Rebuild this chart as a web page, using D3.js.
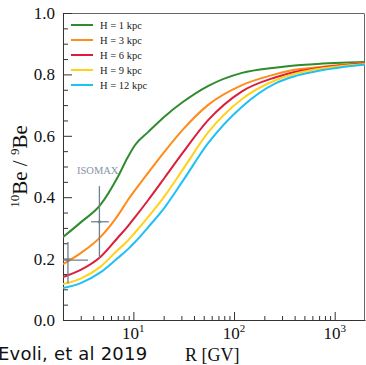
<!DOCTYPE html>
<html>
<head>
<meta charset="utf-8">
<script src="https://cdn.jsdelivr.net/npm/d3@7"></script>
<style>
  body { margin: 0; background: #fff; }
  svg { display: block; }
</style>
</head>
<body>
<div id="chart"></div>
<script>
// rigidity grid (GV)
var rigidity = [2, 3, 4.7, 7, 8.8, 10.4, 14, 20.6, 31, 55, 120, 255, 400, 610, 2000];

var seriesNames = ["H = 1 kpc", "H = 3 kpc", "H = 6 kpc", "H = 9 kpc", "H = 12 kpc"];
var seriesColors = ["#2e8b2e", "#ff8c1a", "#dc1e3c", "#ffd21a", "#1ec0f5"];

var h1  = [0.270, 0.318, 0.375, 0.466, 0.530, 0.570, 0.612, 0.664, 0.710, 0.762, 0.805, 0.822, 0.829, 0.833, 0.840];
var h3  = [0.182, 0.218, 0.270, 0.340, 0.390, 0.423, 0.479, 0.550, 0.620, 0.700, 0.765, 0.800, 0.815, 0.822, 0.838];
var h6  = [0.140, 0.163, 0.205, 0.268, 0.305, 0.335, 0.390, 0.465, 0.545, 0.650, 0.745, 0.790, 0.808, 0.818, 0.836];
var h9  = [0.117, 0.135, 0.173, 0.228, 0.258, 0.285, 0.335, 0.405, 0.490, 0.610, 0.720, 0.780, 0.802, 0.815, 0.834];
var h12 = [0.104, 0.120, 0.155, 0.202, 0.230, 0.254, 0.302, 0.368, 0.453, 0.575, 0.695, 0.770, 0.794, 0.808, 0.832];
var allSeries = [h1, h3, h6, h9, h12];

// ISOMAX points
var isoR     = [2.24, 4.6];
var isoRLo   = [1.6, 3.8];
var isoRHi   = [3.54, 5.7];
var isoVal   = [0.195, 0.32];
var isoValLo = [0.12, 0.202];
var isoValHi = [0.254, 0.436];

var yTicks = [0, 0.2, 0.4, 0.6, 0.8, 1.0];
var xMajor = [10, 100, 1000];

var W = 366, H = 365;
var padL = 63, padR = 365, padT = 13, padB = 320;

var svg = d3.select("#chart").append("svg").attr("width", W).attr("height", H);

var x = d3.scaleLog().domain([2, 2000]).range([padL, padR]);
var y = d3.scaleLinear().domain([0, 1]).range([padB, padT]);

svg.append("defs").append("clipPath").attr("id", "plotclip")
  .append("rect").attr("x", padL).attr("y", padT).attr("width", padR - padL).attr("height", padB - padT);

// frame (top / right)
svg.append("path")
  .attr("d", "M" + padL + "," + (padT + 0.5) + "H" + (padR - 0.5) + "V" + padB)
  .attr("fill", "none").attr("stroke", "#666").attr("stroke-width", 1);

var serif = "'Liberation Serif', 'DejaVu Serif', serif";

// y axis
var minorY = d3.range(0, 1.0001, 0.05).filter(function(d) { return Math.abs(d * 5 - Math.round(d * 5)) > 1e-6; });
svg.append("g").attr("transform", "translate(" + padL + ",0)")
  .call(d3.axisLeft(y).tickValues(minorY).tickSize(-5).tickFormat(""))
  .call(function(g) { g.select(".domain").remove(); g.selectAll("line").attr("stroke", "#333"); });
var yAx = svg.append("g").attr("transform", "translate(" + padL + ",0)")
  .call(d3.axisLeft(y).tickValues(yTicks).tickSize(-9).tickPadding(8).tickFormat(d3.format(".1f")).tickSizeOuter(0));
yAx.select(".domain").attr("stroke", "#333");
yAx.selectAll("line").attr("stroke", "#333");
yAx.selectAll("text").attr("font-family", serif).attr("font-size", 17).attr("fill", "#111");

// x axis
var minorX = [];
[1, 10, 100, 1000].forEach(function(dec) {
  for (var k = 2; k <= 9; k++) { var v = dec * k; if (v > 2 && v < 2000) minorX.push(v); }
});
svg.append("g").attr("transform", "translate(0," + padB + ")")
  .call(d3.axisBottom(x).tickValues(minorX).tickSize(-4).tickFormat(""))
  .call(function(g) { g.select(".domain").remove(); g.selectAll("line").attr("stroke", "#333"); });
var xAx = svg.append("g").attr("transform", "translate(0," + padB + ")")
  .call(d3.axisBottom(x).tickValues(xMajor).tickSize(-8).tickFormat("").tickSizeOuter(0));
xAx.select(".domain").attr("stroke", "#333");
xAx.selectAll("line").attr("stroke", "#333");

var xl = svg.append("g").selectAll("text").data(xMajor).enter().append("text")
  .attr("x", function(d) { return x(d); })
  .attr("y", 339)
  .attr("text-anchor", "middle")
  .attr("font-family", serif).attr("font-size", 17).attr("fill", "#111");
xl.append("tspan").text("10");
xl.append("tspan").attr("dy", -7).attr("font-size", 11).text(function(d) { return Math.round(Math.log10(d)); });

// curves
var line = d3.line()
  .x(function(d, i) { return x(rigidity[i]); })
  .y(function(d) { return y(d); })
  .curve(d3.curveMonotoneX);

var plot = svg.append("g").attr("clip-path", "url(#plotclip)");
plot.selectAll("path.curve").data(allSeries).enter().append("path")
  .attr("class", "curve")
  .attr("d", line)
  .attr("fill", "none")
  .attr("stroke", function(d, i) { return seriesColors[i]; })
  .attr("stroke-width", 2);

// ISOMAX data
var errColor = "#6f7f92";
var eb = plot.append("g").attr("stroke", errColor).attr("stroke-width", 1.3);
isoR.forEach(function(r, i) {
  eb.append("line").attr("x1", x(isoRLo[i])).attr("x2", x(isoRHi[i])).attr("y1", y(isoVal[i])).attr("y2", y(isoVal[i]));
  eb.append("line").attr("x1", x(r)).attr("x2", x(r)).attr("y1", y(isoValLo[i])).attr("y2", y(isoValHi[i]));
  plot.append("circle").attr("cx", x(r)).attr("cy", y(isoVal[i])).attr("r", 1.6).attr("fill", errColor);
});
svg.append("text").attr("x", 77).attr("y", 174)
  .attr("font-family", serif).attr("font-size", 10.5).attr("fill", "#8593a8").text("ISOMAX");

// legend
var leg = svg.append("g").selectAll("g").data(seriesNames).enter().append("g")
  .attr("transform", function(d, i) { return "translate(71," + (25 + i * 15) + ")"; });
leg.append("line").attr("x1", 0).attr("x2", 22).attr("y1", 0).attr("y2", 0)
  .attr("stroke", function(d, i) { return seriesColors[i]; }).attr("stroke-width", 2);
leg.append("text").attr("x", 29).attr("y", 4)
  .attr("font-family", serif).attr("font-size", 10.5).attr("fill", "#222")
  .text(function(d) { return d; });

// axis titles
var yt = svg.append("text")
  .attr("transform", "translate(27," + (padT + padB) / 2 + ") rotate(-90)")
  .attr("text-anchor", "middle")
  .attr("font-family", serif).attr("font-size", 21).attr("fill", "#111");
yt.append("tspan").attr("font-size", 13).attr("dy", -8).text("10");
yt.append("tspan").attr("dy", 8).text("Be / ");
yt.append("tspan").attr("font-size", 13).attr("dy", -8).text("9");
yt.append("tspan").attr("dy", 8).text("Be");

svg.append("text").attr("x", 185).attr("y", 361)
  .attr("font-family", serif).attr("font-size", 18).attr("fill", "#111").text("R [GV]");

svg.append("text").attr("x", -2).attr("y", 360)
  .attr("font-family", "'DejaVu Sans', sans-serif").attr("font-size", 18).attr("fill", "#111")
  .attr("letter-spacing", 0.2)
  .text("Evoli, et al 2019");
</script>
</body>
</html>
